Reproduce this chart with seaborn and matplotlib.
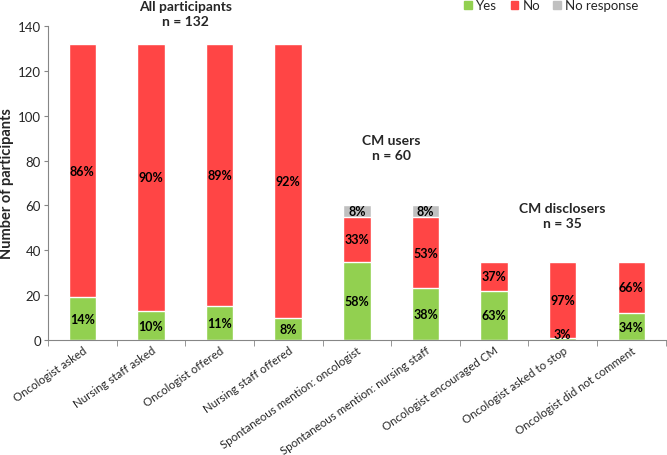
import numpy as np
import pandas as pd
import seaborn as sns
import matplotlib.pyplot as plt
from matplotlib.patches import Patch

# categories and counts
categories = ['Oncologist asked', 'Nursing staff asked', 'Oncologist offered',
              'Nursing staff offered', 'Spontaneous mention: oncologist',
              'Spontaneous mention: nursing staff', 'Oncologist encouraged CM',
              'Oncologist asked to stop', 'Oncologist did not comment']
yes = [19, 13, 15, 10, 35, 23, 22, 1, 12]
no = [113, 119, 117, 122, 20, 32, 13, 34, 23]
no_response = [0, 0, 0, 0, 5, 5, 0, 0, 0]
group_titles = ['All participants\nn = 132', 'CM users\nn = 60', 'CM disclosers\nn = 35']

green = '#92D050'
red = '#FF4545'
grey = '#C0C0C0'

sns.set_style('white')
plt.rcParams['font.family'] = ['Lato', 'DejaVu Sans']

df = pd.DataFrame({'cat': categories, 'yes': yes, 'no': no, 'nr': no_response})
df['yes_no'] = df['yes'] + df['no']
df['total'] = df['yes_no'] + df['nr']

fig = plt.figure(figsize=(6.67, 4.56), dpi=100)
ax = fig.add_axes([0.072, 0.252, 0.926, 0.689])

# stacked bars: draw the cumulative heights, tallest first
sns.barplot(data=df, x='cat', y='total', color=grey, width=0.4, saturation=1, ax=ax)
sns.barplot(data=df, x='cat', y='yes_no', color=red, width=0.4, saturation=1, ax=ax)
sns.barplot(data=df, x='cat', y='yes', color=green, width=0.4, saturation=1, ax=ax)

# percentage labels in segment centres
for i, r in df.iterrows():
    t = r['total']
    for lo, v in [(0, r['yes']), (r['yes'], r['no']), (r['yes_no'], r['nr'])]:
        if v > 0:
            ax.text(i, max(lo + v / 2, 2.5), '%d%%' % round(100 * v / t), ha='center',
                    va='center', fontsize=9, fontweight='bold', color='black')

ax.set_ylim(0, 140)
ax.set_xlim(-0.5, len(categories) - 0.5)
ax.set_yticks(range(0, 141, 20))
ax.set_ylabel('Number of participants', fontsize=10.5, fontweight='bold')
ax.yaxis.set_label_coords(-0.055, 0.5)
ax.set_xlabel('')
ax.set_xticks(range(len(categories)))
ax.set_xticklabels(categories, rotation=35, ha='right', rotation_mode='anchor', fontsize=8.3)
ax.set_xticks(np.arange(-0.5, len(categories), 1), minor=True)
ax.tick_params(axis='x', which='major', length=0, pad=3)
ax.tick_params(axis='x', which='minor', length=4, color='#868686', direction='out', bottom=True)
ax.tick_params(axis='y', length=3, color='#868686', direction='out', left=True,
               labelsize=9.5, pad=2)
for s in ['top', 'right']:
    ax.spines[s].set_visible(False)
for s in ['left', 'bottom']:
    ax.spines[s].set_color('#868686')

# group titles
for (x, y), title in zip([(1.5, 145.4), (4.5, 85.6), (7.0, 55.3)], group_titles):
    ax.text(x, y, title, ha='center', va='center', fontsize=10, fontweight='bold',
            linespacing=1.3, clip_on=False)

handles = [Patch(color=green, label='Yes'), Patch(color=red, label='No'),
           Patch(color=grey, label='No response')]
fig.legend(handles=handles, loc='upper right', bbox_to_anchor=(0.975, 1.025), ncol=3,
           frameon=False, fontsize=9.5, handlelength=0.6, handleheight=0.6,
           handletextpad=0.3, columnspacing=1.0)

fig.savefig('out.png', dpi=100)
